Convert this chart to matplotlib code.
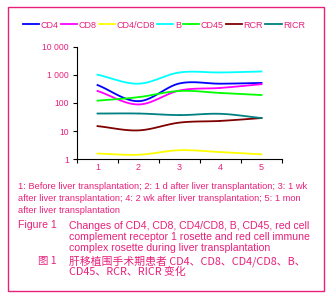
import matplotlib
matplotlib.use('Agg')
import matplotlib.pyplot as plt
import numpy as np

plt.rcParams['font.family'] = ['Liberation Sans', 'DejaVu Sans']

x = [1, 2, 3, 4, 5]
names = ['CD4', 'CD8', 'CD4/CD8', 'B', 'CD45', 'RCR', 'RICR']
colors = ['#0000ff', '#ff00ff', '#ffff00', '#00ffff', '#00ff00', '#800000', '#008080']
cd4 = [430, 115, 490, 480, 510]
cd8 = [265, 88, 275, 340, 460]
cd4_cd8 = [1.6, 1.45, 2.1, 1.8, 1.5]
b_cell = [1000, 480, 1200, 1200, 1300]
cd45 = [120, 160, 265, 225, 190]
rcr = [15, 10.6, 20, 23, 29]
ricr = [42, 42, 37, 41, 29]
series = [cd4, cd8, cd4_cd8, b_cell, cd45, rcr, ricr]

yticks = [1, 10, 100, 1000, 10000]
ylabels = ['1', '10', '100', '1 000', '10 000']

pink = '#e8207a'


def smooth(xs, ys, n=20):
    # Catmull-Rom curve through the points (log space), like Excel's smoothed line
    px = np.array(xs, float)
    py = np.log10(np.array(ys, float))
    px = np.concatenate([[2 * px[0] - px[1]], px, [2 * px[-1] - px[-2]]])
    py = np.concatenate([[2 * py[0] - py[1]], py, [2 * py[-1] - py[-2]]])
    ox, oy = [], []
    for i in range(1, len(px) - 2):
        t = np.linspace(0, 1, n)
        for arr, out in ((px, ox), (py, oy)):
            p0, p1, p2, p3 = arr[i - 1], arr[i], arr[i + 1], arr[i + 2]
            out.extend(0.5 * ((2 * p1) + (-p0 + p2) * t +
                              (2 * p0 - 5 * p1 + 4 * p2 - p3) * t ** 2 +
                              (-p0 + 3 * p1 - 3 * p2 + p3) * t ** 3))
    return np.array(ox), 10 ** np.array(oy)


fig = plt.figure(figsize=(3.32, 2.98), dpi=100)
ax = fig.add_axes([77 / 332, 138.7 / 298, 205 / 332, 112.8 / 298])

for name, vals, c in zip(names, series, colors):
    sx, sy = smooth(x, vals)
    ax.plot(sx, sy, color=c, lw=1.3, label=name)

ax.set_yscale('log')
ax.set_ylim(1, 10000)
ax.set_xlim(0.5, 5.5)
ax.set_yticks(yticks)
ax.set_yticklabels(ylabels)
ax.minorticks_off()
ax.set_xticks(x)
ax.set_xticks(np.arange(0.5, 6, 1), minor=True)
ax.tick_params(axis='x', which='major', length=0, pad=3, labelsize=6.5, labelcolor=pink)
ax.tick_params(axis='x', which='minor', length=3, width=0.8, direction='out')
ax.tick_params(axis='y', length=3, width=0.8, labelsize=6.2, labelcolor=pink, pad=3)
for s in ['top', 'right']:
    ax.spines[s].set_visible(False)
for s in ['left', 'bottom']:
    ax.spines[s].set_linewidth(0.8)

fig.legend(*ax.get_legend_handles_labels(), loc='center', bbox_to_anchor=(164 / 332, 1 - 25 / 298),
           ncol=7, frameon=False, fontsize=6.5, handlelength=1.8, handletextpad=0.15,
           columnspacing=0.25, labelcolor=pink, borderpad=0)

fig.text(18 / 332, 1 - 198.5 / 298,
         '1: Before liver transplantation; 2: 1 d after liver transplantation; 3: 1 wk\n'
         'after liver transplantation; 4: 2 wk after liver transplantation; 5: 1 mon\n'
         'after liver transplantation',
         fontsize=6.7, color=pink, va='center', ha='left', linespacing=1.37)
fig.text(18 / 332, 1 - 225 / 298, 'Figure 1', fontsize=7.6, color=pink, va='center')
fig.text(69 / 332, 1 - 237 / 298,
         'Changes of CD4, CD8, CD4/CD8, B, CD45, red cell\n'
         'complement receptor 1 rosette and red cell immune\n'
         'complex rosette during liver transplantation',
         fontsize=7.6, color=pink, va='center', linespacing=1.18)
fig.text(38 / 332, 1 - 261 / 298, '图 1', fontsize=7.5, color=pink, va='center',
         family=['Noto Sans CJK SC', 'DejaVu Sans'])
fig.text(69 / 332, 1 - 266.5 / 298,
         '肝移植围手术期患者 CD4、CD8、CD4/CD8、B、\nCD45、RCR、RICR 变化',
         fontsize=7.8, color=pink, va='center', linespacing=0.95,
         family=['Noto Sans CJK SC', 'DejaVu Sans'])

fig.add_artist(plt.Rectangle((8 / 332, 1 - 290.5 / 298), 316 / 332, 283.5 / 298,
                             transform=fig.transFigure, fill=False, edgecolor=pink, lw=1))

fig.savefig('out.png', dpi=100)
